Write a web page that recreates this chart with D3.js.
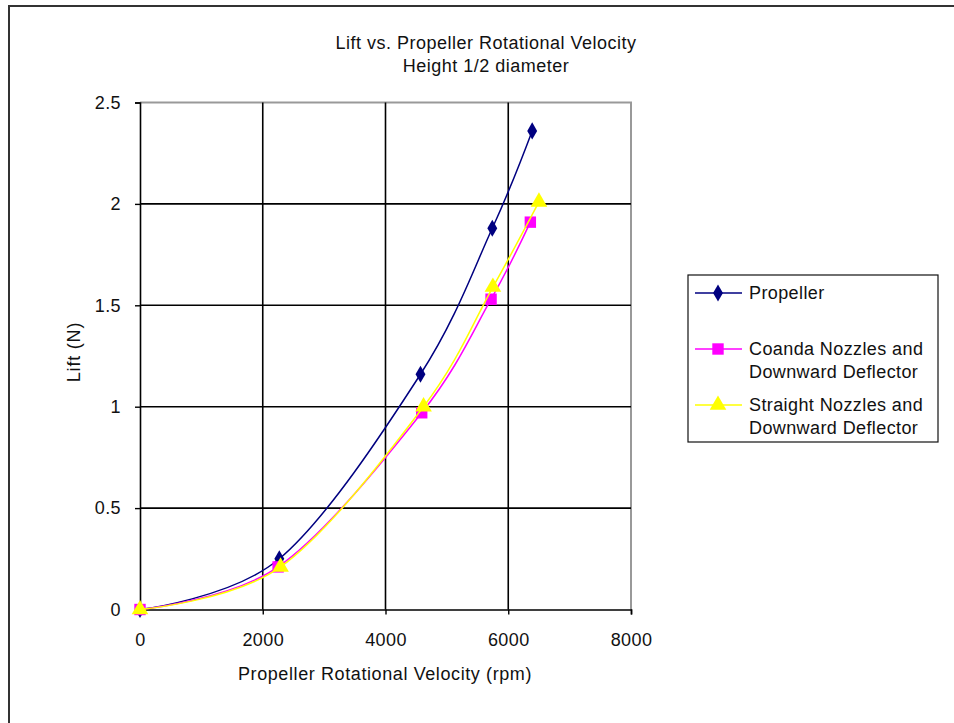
<!DOCTYPE html>
<html>
<head>
<meta charset="utf-8">
<script src="https://cdn.jsdelivr.net/npm/d3@7"></script>
<style>
  body { margin: 0; background: #fff; }
  svg { display: block; font-family: "Liberation Sans", Arial, sans-serif; }
</style>
</head>
<body>
<svg id="chart" width="954" height="723"></svg>
<script>
// chart data
const titleLines = ['Lift vs. Propeller Rotational Velocity', 'Height 1/2 diameter'];
const xTicks = [0, 2000, 4000, 6000, 8000];
const yTicks = [0, 0.5, 1, 1.5, 2, 2.5];

const seriesNames = ['Propeller', 'Coanda Nozzles and|Downward Deflector', 'Straight Nozzles and|Downward Deflector'];
const rpmPropeller = [0, 2270, 4570, 5740, 6390];
const liftPropeller = [0, 0.25, 1.16, 1.88, 2.36];
const rpmCoanda = [0, 2250, 4590, 5720, 6360];
const liftCoanda = [0, 0.21, 0.97, 1.53, 1.91];
const rpmStraight = [0, 2290, 4620, 5750, 6500];
const liftStraight = [0, 0.21, 1.0, 1.59, 2.01];

const width = 954;
const height = 723;
const plot = { left: 140, right: 631, top: 102.5, bottom: 609.5 };

const series = [
  { name: seriesNames[0], rpm: rpmPropeller, lift: liftPropeller, color: '#000080', symbol: d3.symbolDiamond, size: 85 },
  { name: seriesNames[1], rpm: rpmCoanda, lift: liftCoanda, color: '#ff00ff', symbol: d3.symbolSquare, size: 130 },
  { name: seriesNames[2], rpm: rpmStraight, lift: liftStraight, color: '#ffff00', symbol: d3.symbolTriangle, size: 120 }
];

const svg = d3.select('#chart');

// outer chart frame (runs off the right and bottom of the picture)
svg.append('rect')
  .attr('x', 9).attr('y', 6)
  .attr('width', width + 10).attr('height', height + 10)
  .attr('fill', 'none')
  .attr('stroke', '#333')
  .attr('stroke-width', 2);

const x = d3.scaleLinear().domain([0, 8000]).range([plot.left, plot.right]);
const y = d3.scaleLinear().domain([0, 2.5]).range([plot.bottom, plot.top]);

// title
svg.append('g')
  .selectAll('text')
  .data(titleLines)
  .enter()
  .append('text')
  .attr('x', 486)
  .attr('y', (d, i) => 49 + i * 23)
  .attr('text-anchor', 'middle')
  .attr('font-size', 18)
  .attr('letter-spacing', 0.5)
  .attr('fill', '#111')
  .text(d => d);

// plot border (grey, top and right)
svg.append('path')
  .attr('d', `M${plot.left},${plot.top}H${plot.right}V${plot.bottom}`)
  .attr('fill', 'none')
  .attr('stroke', '#999')
  .attr('stroke-width', 2);

// gridlines
const grid = svg.append('g').attr('stroke', '#000').attr('stroke-width', 1.6);
grid.selectAll('.vg')
  .data(xTicks.slice(1, -1))
  .enter()
  .append('line')
  .attr('x1', d => x(d)).attr('x2', d => x(d))
  .attr('y1', plot.top).attr('y2', plot.bottom);
grid.selectAll('.hg')
  .data(yTicks.slice(1, -1))
  .enter()
  .append('line')
  .attr('x1', plot.left).attr('x2', plot.right)
  .attr('y1', d => y(d)).attr('y2', d => y(d));

// axes
const xAxis = svg.append('g')
  .attr('transform', `translate(0,${plot.bottom})`)
  .call(d3.axisBottom(x).tickValues(xTicks).tickSize(5).tickPadding(19).tickFormat(d3.format('d')));
const yAxis = svg.append('g')
  .attr('transform', `translate(${plot.left},0)`)
  .call(d3.axisLeft(y).tickValues(yTicks).tickSize(5).tickPadding(14).tickFormat(d => String(d)));

[xAxis, yAxis].forEach(ax => {
  ax.select('.domain').attr('stroke', '#000').attr('stroke-width', 1.6);
  ax.selectAll('.tick line').attr('stroke', '#000').attr('stroke-width', 1.4);
  ax.selectAll('.tick text')
    .attr('font-family', '"Liberation Sans", Arial, sans-serif')
    .attr('font-size', 18)
    .attr('letter-spacing', 0.4)
    .attr('fill', '#111');
});

// axis titles
svg.append('text')
  .attr('x', 385).attr('y', 680)
  .attr('text-anchor', 'middle')
  .attr('font-size', 18)
  .attr('letter-spacing', 0.6)
  .attr('fill', '#111')
  .text('Propeller Rotational Velocity (rpm)');

svg.append('text')
  .attr('transform', 'translate(80,352) rotate(-90)')
  .attr('text-anchor', 'middle')
  .attr('font-size', 18)
  .attr('letter-spacing', 0.8)
  .attr('fill', '#111')
  .text('Lift (N)');

// smoothed lines, like the spreadsheet's smoothing
const line = d3.line()
  .x(d => x(d[0]))
  .y(d => y(d[1]))
  .curve(d3.curveCardinal.tension(0));

series.forEach(s => {
  const pts = s.rpm.map((r, i) => [r, s.lift[i]]);
  svg.append('path')
    .datum(pts)
    .attr('fill', 'none')
    .attr('stroke', s.color)
    .attr('stroke-width', 1.5)
    .attr('d', line);

  svg.selectAll(null)
    .data(pts)
    .enter()
    .append('path')
    .attr('transform', d => `translate(${x(d[0])},${y(d[1])})`)
    .attr('d', d3.symbol().type(s.symbol).size(s.size))
    .attr('fill', s.color);
});

// legend
const legend = svg.append('g');
legend.append('rect')
  .attr('x', 688).attr('y', 275)
  .attr('width', 250).attr('height', 167)
  .attr('fill', '#fff')
  .attr('stroke', '#111')
  .attr('stroke-width', 1.2);

const legendY = [293, 349, 405];
series.forEach((s, i) => {
  const g = legend.append('g').attr('transform', `translate(0,${legendY[i]})`);
  g.append('line')
    .attr('x1', 695).attr('x2', 742)
    .attr('stroke', s.color)
    .attr('stroke-width', 1.5);
  g.append('path')
    .attr('transform', 'translate(718,0)')
    .attr('d', d3.symbol().type(s.symbol).size(s.size))
    .attr('fill', s.color);
  g.selectAll('text')
    .data(s.name.split('|'))
    .enter()
    .append('text')
    .attr('x', 749)
    .attr('y', (d, j) => 6 + j * 23)
    .attr('font-size', 18)
    .attr('letter-spacing', 0.4)
    .attr('fill', '#111')
    .text(d => d);
});
</script>
</body>
</html>
